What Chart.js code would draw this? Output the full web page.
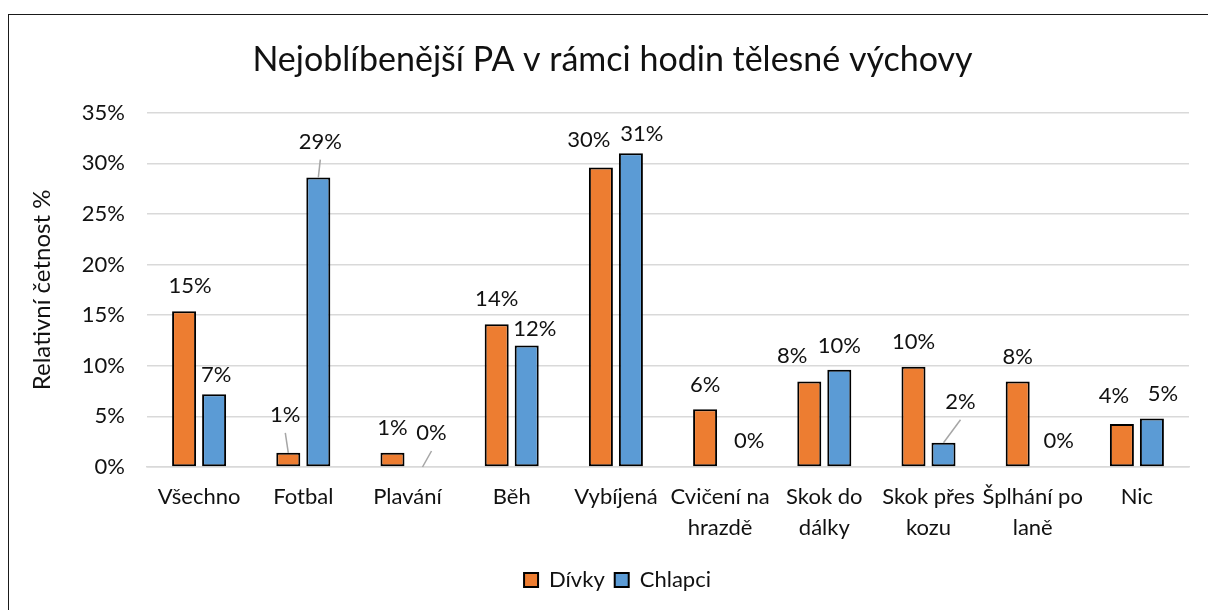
<!DOCTYPE html>
<html>
<head>
<meta charset="utf-8">
<script src="https://cdn.jsdelivr.net/npm/chart.js@4.4.1/dist/chart.umd.min.js"></script>
<style>
    html, body { margin: 0; padding: 0; background: #fff; }
    #wrap { position: relative; width: 1208px; height: 610px; overflow: hidden; }
    #frame { position: absolute; left: 8px; top: 14px; width: 1220px; height: 620px; border: 1.5px solid #1a1a1a; }
    #myChart { position: absolute; left: 0; top: 0; }
</style>
</head>
<body>
<div id="wrap">
    <div id="frame"></div>
    <canvas id="myChart" width="1208" height="610"></canvas>
</div>
<script>
    // data (percent)
    var categories = [["Všechno"], ["Fotbal"], ["Plavání"], ["Běh"], ["Vybíjená"],
        ["Cvičení na", "hrazdě"], ["Skok do", "dálky"], ["Skok přes", "kozu"], ["Šplhání po", "laně"], ["Nic"]];
    var divky = [15.4, 1.4, 1.4, 14.1, 29.6, 5.7, 8.45, 9.9, 8.45, 4.25];
    var chlapci = [7.2, 28.6, 0, 12.0, 31.0, 0, 9.6, 2.4, 0, 4.8];
    var yTicks = [0, 5, 10, 15, 20, 25, 30, 35];

    // label nudges [dx, px above bar top, leader line]
    var nudgeDivky = [[6, 25], [-3, 38, true], [0, 25], [0, 25], [-12, 28], [0, 24], [-17, 26], [0, 25], [0, 25], [-8, 28]];
    var nudgeChlapci = [[2, 19], [2, 36, true], [9, 34, true], [8, 17], [11, 19], [14, 26], [0, 24], [17, 41, true], [11, 26], [11, 25]];

    var font = "Lato";
    var txt = "#111";

    var valueLabels = {
        id: "valueLabels",
        afterDatasetsDraw: function (chart) {
            var ctx = chart.ctx;
            var nudges = [nudgeDivky, nudgeChlapci];
            ctx.save();
            ctx.font = "22px " + font;
            ctx.textAlign = "center";
            ctx.textBaseline = "middle";
            chart.data.datasets.forEach(function (ds, di) {
                var meta = chart.getDatasetMeta(di);
                meta.data.forEach(function (bar, i) {
                    var n = nudges[di][i];
                    var lx = bar.x + n[0];
                    var ly = bar.y - n[1];
                    if (n[2]) {
                        ctx.strokeStyle = "#a6a6a6";
                        ctx.lineWidth = 1.5;
                        ctx.beginPath();
                        ctx.moveTo(bar.x, bar.y);
                        ctx.lineTo(lx, ly + 18);
                        ctx.stroke();
                    }
                    ctx.fillStyle = txt;
                    ctx.fillText(Math.round(ds.data[i]) + "%", lx, ly);
                });
            });
            ctx.restore();
        }
    };

    // the reference centres title and legend a bit right of the canvas middle
    var shiftBoxes = {
        id: "shiftBoxes",
        afterLayout: function (chart) {
            chart.legend.left += 23;
            chart.legend.right += 23;
            chart.titleBlock.left += 18;
            chart.titleBlock.right += 18;
        }
    };

    var ctx = document.getElementById("myChart").getContext("2d");
    window.myChart = new Chart(ctx, {
        type: "bar",
        data: {
            labels: categories,
            datasets: [
                {
                    label: "Dívky",
                    data: divky,
                    backgroundColor: "#ED7D31",
                    borderColor: "#000",
                    borderWidth: 2,
                    borderSkipped: false
                },
                {
                    label: "Chlapci",
                    data: chlapci,
                    backgroundColor: "#5B9BD5",
                    borderColor: "#000",
                    borderWidth: 2,
                    borderSkipped: false
                }
            ]
        },
        options: {
            responsive: false,
            animation: false,
            categoryPercentage: 0.576,
            barPercentage: 0.8,
            layout: { padding: { left: 0, right: 19, top: 0, bottom: 9 } },
            plugins: {
                title: {
                    display: true,
                    text: "Nejoblíbenější PA v rámci hodin tělesné výchovy",
                    color: txt,
                    font: { family: font, size: 34, weight: "normal", lineHeight: 1.2 },
                    padding: { top: 40, bottom: 32 }
                },
                legend: {
                    position: "bottom",
                    labels: {
                        color: txt,
                        font: { family: font, size: 22 },
                        boxWidth: 14,
                        boxHeight: 14,
                        padding: 10
                    }
                },
                tooltip: { enabled: false }
            },
            scales: {
                x: {
                    grid: { display: false, drawTicks: false },
                    border: { display: true, color: "#d9d9d9", width: 1.5 },
                    ticks: {
                        color: txt,
                        font: { family: font, size: 22, lineHeight: 1.4 },
                        padding: 15,
                        maxRotation: 0,
                        autoSkip: false
                    },
                    afterFit: function (scale) { scale.height = 92; }
                },
                y: {
                    min: 0,
                    max: 35,
                    afterBuildTicks: function (scale) {
                        scale.ticks = yTicks.map(function (v) { return { value: v }; });
                    },
                    grid: { color: "#d9d9d9", lineWidth: 1.5, drawTicks: false },
                    border: { display: false },
                    ticks: {
                        color: txt,
                        font: { family: font, size: 22 },
                        padding: 22,
                        callback: function (v) { return v + "%"; }
                    },
                    title: {
                        display: true,
                        text: "Relativní četnost %",
                        color: txt,
                        font: { family: font, size: 24, weight: "normal" },
                        padding: { top: 28, bottom: 0 }
                    },
                    afterFit: function (scale) { scale.width = 147; }
                }
            }
        },
        plugins: [valueLabels, shiftBoxes]
    });
</script>
</body>
</html>
